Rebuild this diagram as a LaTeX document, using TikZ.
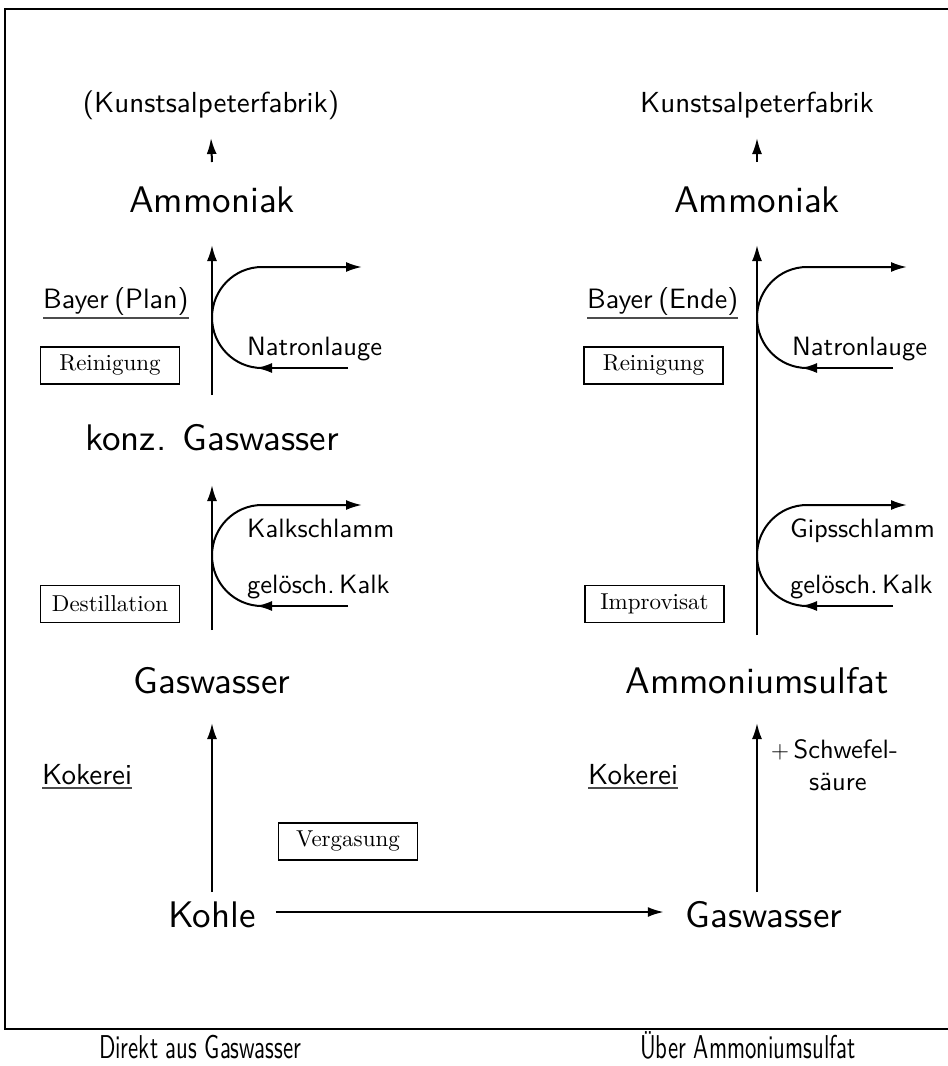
\documentclass[tikz,border=0pt]{standalone}
\usepackage{fontspec}
\setsansfont{lmsans10-regular.otf}
\setmainfont{lmroman10-regular.otf}
\usetikzlibrary{arrows.meta,calc}
\newcommand\FBig{\sffamily\fontsize{37}{42}\selectfont}
\newcommand\FMed{\sffamily\fontsize{26.5}{30}\selectfont}
\newcommand\FLab{\sffamily\fontsize{29}{32}\selectfont}
\newcommand\FBay{\sffamily\fontsize{28}{32}\selectfont}
\newcommand\FBox{\rmfamily\fontsize{23}{25}\selectfont}
\newcommand\FFoot{\sffamily\fontsize{33}{36}\selectfont}
\begin{document}
\begin{tikzpicture}[x=1pt,y=-1pt,
  arr/.style={line width=2pt,-{Latex[length=16pt,width=10pt]}},
  big/.style={font=\FBig, inner sep=0pt, anchor=base},
  lab/.style={font=\FLab, inner sep=0pt, anchor=base},
  labw/.style={font=\FLab, inner sep=0pt, anchor=base west},
  bayw/.style={font=\FBay, inner sep=0pt, anchor=base west},
  medw/.style={font=\FMed, inner sep=0pt, anchor=base west},
  foot/.style={font=\FFoot, inner sep=0pt, anchor=base},
  boxed/.style={draw, line width=1.8pt, font=\FBox, minimum width=139pt, minimum height=37pt, inner sep=0pt},
  uline/.style={line width=1.6pt, black!70},
  hook/.pic={
    \draw[arr] (136,101) -- (44,101);
    \draw[arr] (50,101) .. controls (22.4,101) and (0,78.4) .. (0,50.5)
               .. controls (0,22.6) and (22.4,0) .. (50,0) -- (150,0);
  }]
\useasboundingbox (0,0) rectangle (948,1066);
\draw[line width=2.4pt] (5,9) rectangle (990,1029);

% left column
\node[lab] (kunstL) at (211,112) {(Kunstsalpeterfabrik)};
\node[big] (ammL) at (212,212) {Ammoniak};
\node[big] (konz) at (212,450) {konz. Gaswasser};
\node[big] (gwL) at (212,693) {Gaswasser};
\node[big] (kohle) at (212,927) {Kohle};

\node[bayw] (bayerL) at (43,308) {Bayer\hspace{0.2em}(Plan)};
\draw[uline] ($(bayerL.base west)+(0,10)$) -- ($(bayerL.base east)+(0,10)$);
\node[boxed] (reinL) at (110,365.5) {Reinigung};
\node[medw] (natL) at (247,355) {Natronlauge};
\node[medw] (kalkschl) at (247,537) {Kalkschlamm};
\node[medw] (geloeL) at (247,593) {gelösch.\,Kalk};
\node[boxed] (dest) at (110,604) {Destillation};
\node[labw] (kokL) at (42,784) {Kokerei};
\draw[uline] ($(kokL.base west)+(0,4)$) -- ($(kokL.base east)+(0,4)$);
\node[boxed] (verg) at (348,841.5) {Vergasung};

\draw[arr] ($(ammL.base)+(0,-50)$) -- ($(kunstL.base)+(0,26)$);
\draw[arr] ($(konz.base)+(0,-55)$) -- ($(ammL.base)+(0,33)$);
\draw[arr] ($(gwL.base)+(0,-63)$) -- ($(konz.base)+(0,35)$);
\draw[arr] ($(kohle.base)+(0,-35)$) -- ($(gwL.base)+(0,30)$);
\pic at (212,267) {hook};
\pic at (212,505) {hook};

% right column
\node[lab] (kunstR) at (757,112) {Kunstsalpeterfabrik};
\node[big] (ammR) at (757,212) {Ammoniak};
\node[big] (ammsulf) at (757,693) {Ammoniumsulfat};
\node[big] (gwR) at (764,927) {Gaswasser};

\node[bayw] (bayerR) at (587,308) {Bayer\hspace{0.2em}(Ende)};
\draw[uline] ($(bayerR.base west)+(0,10)$) -- ($(bayerR.base east)+(0,10)$);
\node[boxed] (reinR) at (653.5,365.5) {Reinigung};
\node[medw] (natR) at (792,355) {Natronlauge};
\node[medw] (gips) at (790,537) {Gipsschlamm};
\node[medw] (geloeR) at (790,593) {gelösch.\,Kalk};
\node[boxed] (impr) at (654.5,604) {Improvisat};
\node[labw] (kokR) at (588,784) {Kokerei};
\draw[uline] ($(kokR.base west)+(0,4)$) -- ($(kokR.base east)+(0,4)$);
\node[medw] (schw) at (771,758) {$+$\,Schwefel-};
\node[medw] (saeure) at (809,790) {säure};

\draw[arr] ($(ammR.base)+(0,-50)$) -- ($(kunstR.base)+(0,26)$);
\draw[arr] ($(ammsulf.base)+(0,-58)$) -- ($(ammR.base)+(0,33)$);
\draw[arr] ($(ammsulf.base)+(0,199)$) -- ($(ammsulf.base)+(0,30)$);
\pic at (757,267) {hook};
\pic at (757,505) {hook};

\draw[arr] ($(kohle.base east)+(20,-15)$) -- ($(gwR.base west)+(-22,-15)$);

% captions
\node[foot] (capL) at (200,1058) {\scalebox{0.69}[1]{Direkt aus Gaswasser}};
\node[foot] (capR) at (748,1058) {\scalebox{0.69}[1]{Über Ammoniumsulfat}};
\end{tikzpicture}
\end{document}
